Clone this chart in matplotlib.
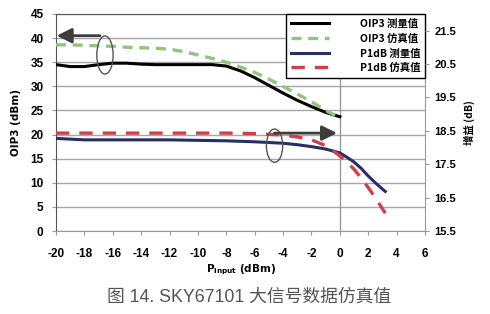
import matplotlib.pyplot as plt
from matplotlib.patches import Ellipse

plt.rcParams['axes.unicode_minus'] = False

# 数据
x_oip3 = [-20, -19, -18, -17, -16, -15, -14, -13, -12, -11, -10,
          -9, -8, -7, -6, -5, -4, -3, -2, -1, 0]
oip3_meas = [34.5, 34.1, 34.1, 34.5, 34.8, 34.8, 34.6, 34.5, 34.5, 34.5, 34.5,
             34.5, 34.2, 33.2, 31.8, 30.2, 28.6, 27.1, 25.8, 24.6, 23.7]
oip3_sim = [38.6, 38.6, 38.5, 38.4, 38.3, 38.1, 38.0, 37.9, 37.7, 37.2, 36.5,
            35.8, 35.0, 34.0, 32.9, 31.5, 30.0, 28.4, 26.8, 25.0, 23.5]

x_p1_meas = [-20, -18, -16, -14, -12, -10, -8, -6, -4, -3, -2, -1,
             0, 0.5, 1, 1.5, 2, 2.5, 3, 3.2]
p1_meas = [19.2, 18.9, 18.9, 18.9, 18.9, 18.8, 18.7, 18.5, 18.2, 17.9, 17.5, 17.0,
           16.2, 15.3, 14.3, 13.0, 11.4, 10.0, 8.7, 8.2]
x_p1_sim = [-20, -16, -12, -8, -6, -4, -3, -2, -1, 0, 0.5, 1, 1.5, 2, 2.5, 3.2]
p1_sim = [20.3, 20.3, 20.3, 20.3, 20.2, 19.9, 19.5, 18.9, 17.7, 15.6, 14.3,
          12.8, 11.0, 9.0, 6.9, 3.7]

x_ticks = list(range(-20, 7, 2))
y_ticks = list(range(0, 46, 5))
gain_ticks = [15.5, 16.5, 17.5, 18.5, 19.5, 20.5, 21.5]

labels = ['OIP3 测量值', 'OIP3 仿真值', 'P1dB 测量值', 'P1dB 仿真值']

num_font = ['Liberation Sans', 'DejaVu Sans']
cjk_font = ['Noto Sans CJK SC', 'DejaVu Sans']
cap_font = ['Liberation Sans', 'Noto Sans CJK SC']

fig = plt.figure(figsize=(4.9, 3.14), dpi=100)
ax = fig.add_axes([56 / 490, 83 / 314, 369 / 490, 217 / 314])

ax.plot(x_oip3, oip3_meas, color='black', lw=2.2, label=labels[0], zorder=3)
ax.plot(x_oip3, oip3_sim, color='#93c47d', lw=2.4, ls=(0, (3, 2)), label=labels[1], zorder=3)
ax.plot(x_p1_meas, p1_meas, color='#262f66', lw=2.2, label=labels[2], zorder=3)
ax.plot(x_p1_sim, p1_sim, color='#d0404a', lw=2.4, ls=(0, (4, 3)), label=labels[3], zorder=3)

ax.set_xlim(-20, 6)
ax.set_ylim(0, 45)
ax.set_xticks(x_ticks)
ax.set_yticks(y_ticks)
ax.yaxis.grid(True, color='#a6a6a6', lw=1)
ax.axvline(0, color='#999999', lw=1, zorder=1)
ax.set_axisbelow(True)
for s in ['left', 'top']:
    ax.spines[s].set_color('#555555')
for s in ['right', 'bottom']:
    ax.spines[s].set_color('#999999')
ax.tick_params(axis='both', length=3, color='#999999', labelsize=8.5)
ax.tick_params(axis='x', pad=9)
ax.tick_params(axis='y', pad=6)
for t in ax.get_xticklabels() + ax.get_yticklabels():
    t.set_family(num_font)
    t.set_fontweight('bold')
ax.set_ylabel('OIP3 (dBm)', fontsize=7.5, fontweight='bold', labelpad=7)
ax.set_xlabel(r'$\mathbf{P_{input}}$ (dBm)', fontsize=7.5, fontweight='bold', labelpad=2)

ax2 = ax.twinx()
ax2.set_ylim(15.5, 22.0)
ax2.set_yticks(gain_ticks)
ax2.set_yticklabels([f'{v:.1f}' for v in gain_ticks])
ax2.tick_params(axis='y', length=3, color='#999999', labelsize=8, pad=4)
for t in ax2.get_yticklabels():
    t.set_family(num_font)
    t.set_fontweight('bold')
for s in ax2.spines.values():
    s.set_visible(False)
ax2.set_ylabel('增益 (dB)', fontsize=7.5, fontweight='bold', family=cjk_font,
               rotation=90, labelpad=5)

# 标注: 椭圆和箭头
arrow_kw = dict(arrowstyle='-|>,head_length=0.9,head_width=0.45', lw=2,
                color='#3d3d3d', shrinkA=0, shrinkB=0)
ax.add_patch(Ellipse((-16.55, 36.5), 1.15, 7.9, fill=False, ec='#555555', lw=1, zorder=4))
ax.annotate('', xy=(-19.95, 40.5), xytext=(-16.9, 40.5), arrowprops=arrow_kw, zorder=5)
ax.add_patch(Ellipse((-4.6, 17.7), 1.15, 6.9, fill=False, ec='#555555', lw=1, zorder=4))
ax.annotate('', xy=(-0.2, 20.3), xytext=(-4.6, 20.3), arrowprops=arrow_kw, zorder=5)

leg = ax.legend(loc='upper right', bbox_to_anchor=(1.0, 1.0), borderaxespad=0,
                prop={'family': cjk_font, 'weight': 'bold', 'size': 7.5},
                handlelength=3.6, handletextpad=3.0, fancybox=False, edgecolor='black',
                framealpha=1, labelspacing=0.42, borderpad=0.45)
leg.get_frame().set_linewidth(1)
leg.set_zorder(6)

fig.text(107 / 490, 1 - 297 / 314, '图 14. SKY67101 大信号数据仿真值', fontsize=12.8,
         family=cap_font, color='#555555', ha='left', va='center')

fig.savefig('out.png', dpi=100)
